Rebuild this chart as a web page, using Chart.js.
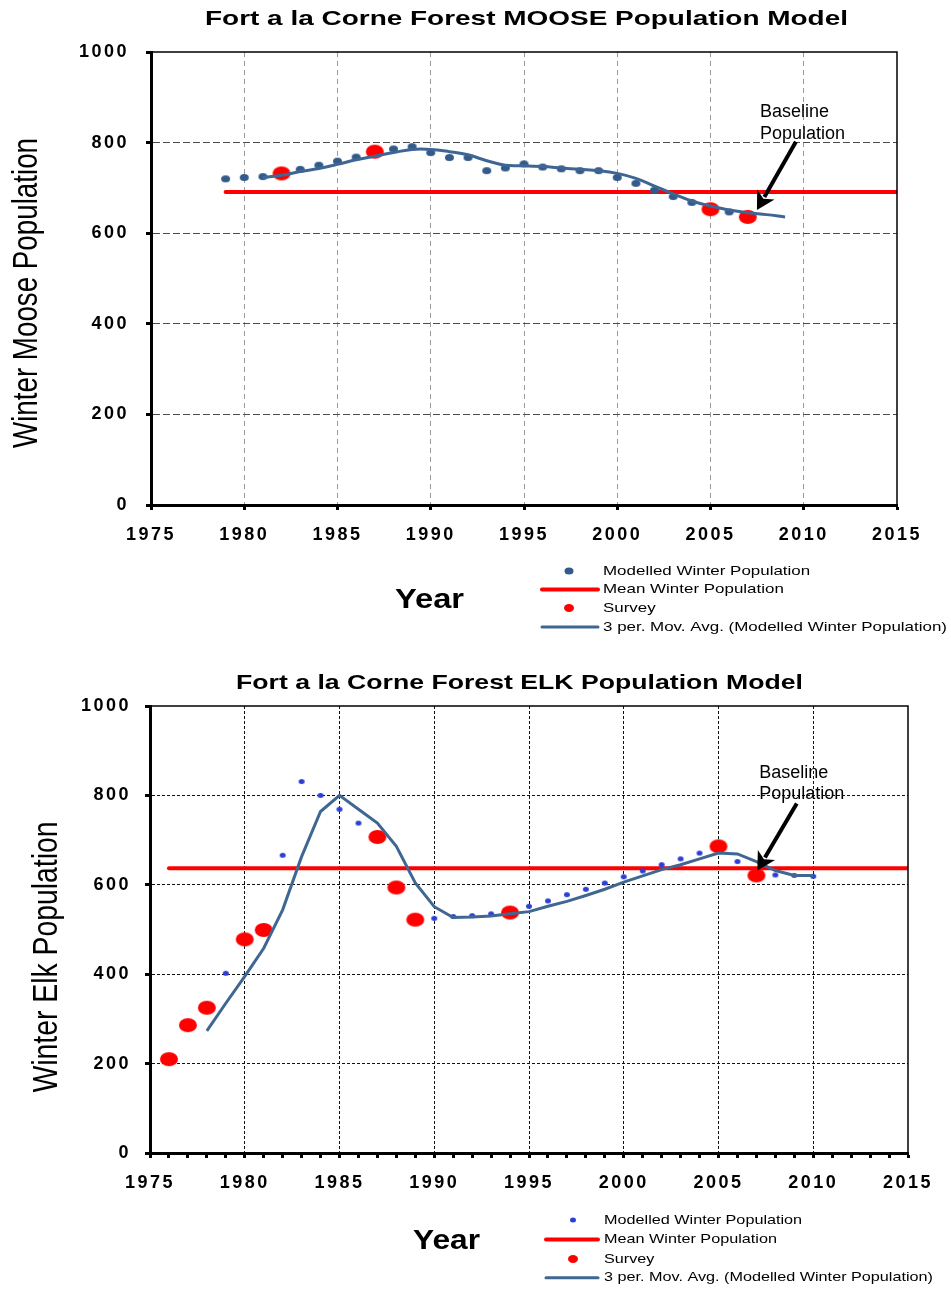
<!DOCTYPE html>
<html>
<head>
<meta charset="utf-8">
<script src="https://cdn.jsdelivr.net/npm/chart.js@4.4.1/dist/chart.umd.min.js"></script>
<style>
  body { margin: 0; background: #fff; }
  canvas { display: block; }
</style>
</head>
<body>
<canvas id="mooseChart" width="951" height="645"></canvas>
<canvas id="elkChart" width="951" height="644"></canvas>
<script>
const FONT = "'Liberation Sans', Arial, sans-serif";

// moose
const mooseYears = [1979, 1980, 1981, 1982, 1983, 1984, 1985, 1986, 1987, 1988, 1989, 1990, 1991, 1992, 1993, 1994,
  1995, 1996, 1997, 1998, 1999, 2000, 2001, 2002, 2003, 2004, 2005, 2006, 2007, 2008, 2009];
const mooseModelled = [720, 723, 725, 732, 741, 750, 759, 768, 778, 786, 791, 778, 767, 767, 738, 744,
  753, 746, 742, 738, 738, 723, 710, 695, 681, 668, 656, 647, 640, null, null];
const mooseMovAvg = [null, null, 723, 728, 736, 743, 752, 762, 770, 778, 785, 785, 780, 773, 760, 750,
  749, 747, 744, 741, 738, 732, 721, 704, 687, 671, 660, 651, 645, 641, 636];
const mooseSurveyYears = [1982, 1987, 2005, 2007];
const mooseSurvey = [732, 780, 653, 636];
const mooseMeanYears = [1979, 2015];
const mooseMean = 691;

// elk
const elkYears = [1976, 1977, 1978, 1979, 1980, 1981, 1982, 1983, 1984, 1985, 1986, 1987, 1988, 1989, 1990, 1991,
  1992, 1993, 1994, 1995, 1996, 1997, 1998, 1999, 2000, 2001, 2002, 2003, 2004, 2005, 2006, 2007, 2008, 2009, 2010];
const elkModelled = [210, 286, 325, 402, 470, 500, 666, 831, 800, 769, 738, 707, 596, 522, 525, 529,
  531, 535, 539, 552, 564, 578, 590, 604, 618, 631, 645, 658, 671, 686, 652, 621, 622, 621, 619];
const elkMovAvg = [null, null, 273, 335, 395, 458, 544, 663, 764, 800, 769, 738, 686, 604, 551, 527,
  528, 530, 535, 540, 552, 563, 576, 590, 606, 620, 634, 645, 658, 671, 669, 652, 632, 621, 621];
const elkSurveyYears = [1976, 1977, 1978, 1980, 1981, 1987, 1988, 1989, 1994, 2005, 2007];
const elkSurvey = [210, 286, 325, 478, 499, 707, 594, 522, 538, 686, 621];
const elkMeanYears = [1976, 2015];
const elkMean = 637;

const legendLabels = ['Modelled Winter Population', 'Mean Winter Population', 'Survey',
  '3 per. Mov. Avg. (Modelled Winter Population)'];

const pts = (xs, ys) => xs.map((x, i) => ({ x, y: ys[i] }));

function ellipseDot(rx, ry, color) {
  const c = document.createElement('canvas');
  c.width = Math.ceil(rx * 2) + 2;
  c.height = Math.ceil(ry * 2) + 2;
  const g = c.getContext('2d');
  g.fillStyle = color;
  g.beginPath();
  g.ellipse(c.width / 2, c.height / 2, rx, ry, 0, 0, Math.PI * 2);
  g.fill();
  return c;
}

function fitText(ctx, text, x, y, font, width, align, rotate, thick) {
  ctx.save();
  ctx.font = font;
  ctx.letterSpacing = '0px';
  const w = ctx.measureText(text).width;
  const s = width ? width / w : 1;
  ctx.translate(x, y);
  if (rotate) ctx.rotate(-Math.PI / 2);
  ctx.scale(s, thick || 1);
  ctx.textAlign = align || 'center';
  ctx.textBaseline = 'middle';
  ctx.fillStyle = '#000';
  ctx.fillText(text, 0, 0);
  ctx.restore();
}

function arrow(ctx, x1, y1, x2, y2) {
  const a = Math.atan2(y2 - y1, x2 - x1);
  const head = 18, half = 10;
  const bx = x2 - head * Math.cos(a), by = y2 - head * Math.sin(a);
  ctx.strokeStyle = '#000';
  ctx.fillStyle = '#000';
  ctx.lineWidth = 4;
  ctx.lineCap = 'butt';
  ctx.beginPath();
  ctx.moveTo(x1, y1);
  ctx.lineTo(bx + 3 * Math.cos(a), by + 3 * Math.sin(a));
  ctx.stroke();
  ctx.beginPath();
  ctx.moveTo(x2, y2);
  ctx.lineTo(bx + half * Math.sin(a), by - half * Math.cos(a));
  ctx.lineTo(bx + 5 * Math.cos(a), by + 5 * Math.sin(a));
  ctx.lineTo(bx - half * Math.sin(a), by + half * Math.cos(a));
  ctx.closePath();
  ctx.fill();
}

const decor = {
  id: 'decor',
  beforeDraw(chart) {
    chart.ctx.letterSpacing = '2.5px';
  },
  afterDraw(chart, args, o) {
    const ctx = chart.ctx;
    const { left, right, top, bottom } = chart.chartArea;
    const xs = chart.scales.x, ys = chart.scales.y;
    ctx.save();
    ctx.letterSpacing = '0px';

    // plot frame, top and right
    ctx.strokeStyle = '#000';
    ctx.lineWidth = 1.5;
    ctx.beginPath();
    ctx.moveTo(left, top);
    ctx.lineTo(right, top);
    ctx.lineTo(right, bottom);
    ctx.stroke();

    fitText(ctx, o.title.text, o.title.x, o.title.y, 'bold 21px ' + FONT, o.title.width);
    fitText(ctx, o.yTitle.text, o.yTitle.x, o.yTitle.y, '28px ' + FONT, o.yTitle.length, 'center', true, 1.25);
    fitText(ctx, 'Year', o.xTitle.x, o.xTitle.y, 'bold 28px ' + FONT, o.xTitle.width);

    // legend
    const L = o.legend;
    const sets = chart.data.datasets;
    ctx.font = '13px ' + FONT;
    const longest = Math.max(...sets.map(d => ctx.measureText(d.label).width));
    sets.forEach((d, i) => {
      const y = L.rows[i];
      if (d.showLine) {
        ctx.strokeStyle = d.borderColor;
        ctx.lineWidth = d.borderWidth;
        ctx.lineCap = 'round';
        ctx.beginPath();
        ctx.moveTo(L.lineX0, y);
        ctx.lineTo(L.lineX1, y);
        ctx.stroke();
      } else {
        ctx.fillStyle = d.backgroundColor;
        ctx.beginPath();
        ctx.ellipse(L.symX, y, L.dots[i][0], L.dots[i][1], 0, 0, Math.PI * 2);
        ctx.fill();
      }
      fitText(ctx, d.label, L.textX, y, '13px ' + FONT, L.textWidth * ctx.measureText(d.label).width / longest, 'left');
      ctx.font = '13px ' + FONT;
    });

    // baseline note
    const n = o.note;
    const tx = xs.getPixelForValue(n.textYear);
    fitText(ctx, 'Baseline', tx, ys.getPixelForValue(n.line1), '18px ' + FONT, 0, 'left');
    fitText(ctx, 'Population', tx, ys.getPixelForValue(n.line2), '18px ' + FONT, 0, 'left');
    arrow(ctx, xs.getPixelForValue(n.tail[0]), ys.getPixelForValue(n.tail[1]),
      xs.getPixelForValue(n.tip[0]), ys.getPixelForValue(n.tip[1]));
    ctx.restore();
  }
};

function makeChart(id, s) {
  const tickFont = { family: FONT, size: 18, weight: 'bold' };
  return new Chart(document.getElementById(id), {
    type: 'scatter',
    data: {
      datasets: [
        {
          label: legendLabels[0],
          data: pts(s.years, s.modelled),
          showLine: false,
          pointStyle: ellipseDot(s.dot[0], s.dot[1], s.dotColor),
          pointRadius: s.dot[0],
          backgroundColor: s.dotColor,
          borderColor: s.dotColor,
          order: 3
        },
        {
          label: legendLabels[1],
          data: pts(s.meanYears, s.meanYears.map(() => s.mean)),
          showLine: true,
          pointRadius: 0,
          borderColor: '#ff0000',
          backgroundColor: '#ff0000',
          borderWidth: 4,
          borderCapStyle: 'round',
          order: 4
        },
        {
          label: legendLabels[2],
          data: pts(s.surveyYears, s.survey),
          showLine: false,
          pointStyle: ellipseDot(9, 7, '#ff0000'),
          pointRadius: 9,
          backgroundColor: '#ff0000',
          borderColor: '#ff0000',
          order: 2
        },
        {
          label: legendLabels[3],
          data: pts(s.years, s.movAvg),
          showLine: true,
          pointRadius: 0,
          borderColor: s.lineColor,
          backgroundColor: s.lineColor,
          borderWidth: 3,
          tension: s.tension,
          order: 1
        }
      ]
    },
    options: {
      responsive: false,
      animation: false,
      layout: { padding: s.padding },
      plugins: {
        legend: { display: false },
        tooltip: { enabled: false },
        decor: s.decor
      },
      scales: {
        x: {
          type: 'linear',
          min: 1975,
          max: 2015,
          ticks: {
            stepSize: s.xStep,
            autoSkip: false,
            maxRotation: 0,
            color: '#000',
            font: tickFont,
            padding: 14,
            callback: v => (v % 5 === 0 ? String(v) : '')
          },
          grid: {
            color: c => (c.tick.value % 5 !== 0 || c.tick.value === 1975 || c.tick.value === 2015) ? 'rgba(0,0,0,0)' : s.vGrid,
            lineWidth: 1,
            tickColor: '#000',
            tickWidth: 3,
            tickLength: 5
          },
          border: { color: '#000', width: 3, dash: s.vDash },
          afterFit: sc => { sc.height = s.xAxisHeight; }
        },
        y: {
          min: 0,
          max: 1000,
          ticks: {
            stepSize: 200,
            color: '#000',
            font: tickFont,
            padding: s.yPad,
            callback: v => String(v)
          },
          grid: {
            color: c => (c.tick.value === 0 || c.tick.value === 1000) ? 'rgba(0,0,0,0)' : s.hGrid,
            lineWidth: 1,
            tickColor: '#000',
            tickWidth: 3,
            tickLength: 5
          },
          border: { color: '#000', width: 3, dash: s.hDash },
          afterFit: sc => { sc.width = s.yAxisWidth; }
        }
      }
    },
    plugins: [decor]
  });
}

makeChart('mooseChart', {
  years: mooseYears, modelled: mooseModelled, movAvg: mooseMovAvg,
  surveyYears: mooseSurveyYears, survey: mooseSurvey,
  meanYears: mooseMeanYears, mean: mooseMean,
  dot: [4.5, 3.5], dotColor: '#335b8a', lineColor: '#3e6694', tension: 0.4,
  padding: { top: 52, right: 54, left: 0, bottom: 0 },
  yAxisWidth: 151, xAxisHeight: 140, xStep: 5, yPad: 17,
  hGrid: '#4d4d4d', hDash: [7, 3], vGrid: '#9a9a9a', vDash: [5, 4],
  decor: {
    title: { text: 'Fort a la Corne Forest MOOSE Population Model', x: 526.5, y: 19, width: 643 },
    yTitle: { text: 'Winter Moose Population', x: 27, y: 293, length: 310 },
    xTitle: { x: 429.5, y: 600, width: 69 },
    legend: { rows: [571, 589.5, 608, 627], symX: 569, lineX0: 542, lineX1: 598, textX: 603, textWidth: 344,
      dots: [[4.5, 3.5], [0, 0], [5, 4], [0, 0]] },
    note: { textYear: 2007.65, line1: 867, line2: 819, tail: [2009.58, 802], tip: [2007.49, 651] }
  }
});

makeChart('elkChart', {
  years: elkYears, modelled: elkModelled, movAvg: elkMovAvg,
  surveyYears: elkSurveyYears, survey: elkSurvey,
  meanYears: elkMeanYears, mean: elkMean,
  dot: [3, 2.5], dotColor: '#2b3fd8', lineColor: '#3f6792', tension: 0,
  padding: { top: 61, right: 43, left: 0, bottom: 0 },
  yAxisWidth: 150, xAxisHeight: 136, xStep: 1, yPad: 14,
  hGrid: '#111', hDash: [3, 2], vGrid: '#111', vDash: [3, 2],
  decor: {
    title: { text: 'Fort a la Corne Forest ELK Population Model', x: 519.5, y: 38.5, width: 567 },
    yTitle: { text: 'Winter Elk Population', x: 47, y: 312, length: 271 },
    xTitle: { x: 446.5, y: 596, width: 67 },
    legend: { rows: [575, 594.5, 614, 632.7], symX: 573, lineX0: 546, lineX1: 598, textX: 604, textWidth: 329,
      dots: [[3, 2.5], [0, 0], [5, 4], [0, 0]] },
    note: { textYear: 2007.15, line1: 849, line2: 802, tail: [2009.13, 782], tip: [2007.05, 632] }
  }
});
</script>
</body>
</html>
